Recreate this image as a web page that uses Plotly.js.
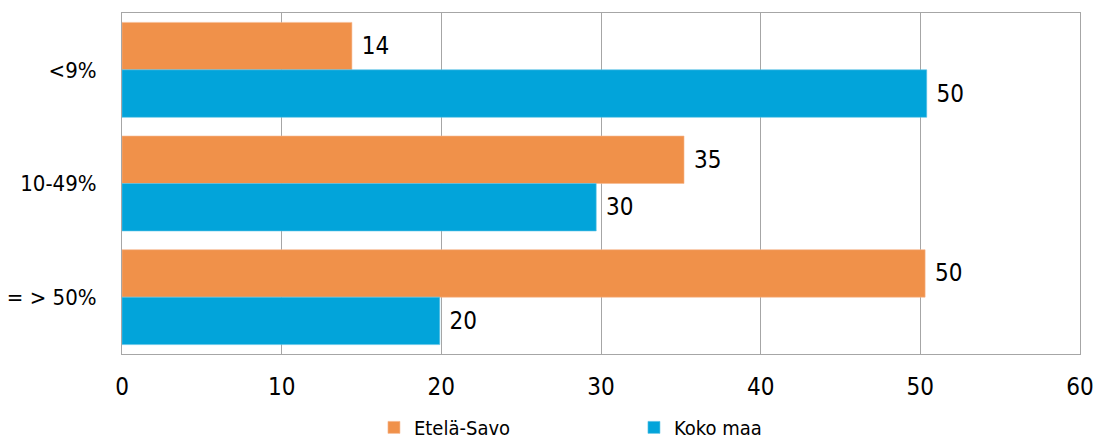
<!DOCTYPE html>
<html>
<head>
<meta charset="utf-8">
<script src="https://cdn.plot.ly/plotly-3.0.1.min.js"></script>
<style>html,body{margin:0;padding:0;background:#fff;}#chart{width:1109px;height:441px;}</style>
</head>
<body>
<div id="chart"></div>
<script>
var categories = ['<9%', '10-49%', '= > 50%'];
var seriesNames = ['Etelä-Savo', 'Koko maa'];
var etelaSavo = [14.4, 35.2, 50.3];
var kokoMaa = [50.4, 29.7, 19.9];
var xTicks = [0, 10, 20, 30, 40, 50, 60];

var FONT = 'DejaVu Sans Condensed, DejaVu Sans, sans-serif';
var traces = [
  {type: 'bar', orientation: 'h', name: seriesNames[0], y: categories, x: etelaSavo,
   marker: {color: '#F0914A', line: {color: '#F6B890', width: 0.6}},
   texttemplate: ' %{x:.0f}', textposition: 'outside', cliponaxis: false,
   textfont: {family: FONT, size: 24, color: '#000'}},
  {type: 'bar', orientation: 'h', name: seriesNames[1], y: categories, x: kokoMaa,
   marker: {color: '#02A4DA', line: {color: '#5CC3E6', width: 0.6}},
   texttemplate: ' %{x:.0f}', textposition: 'outside', cliponaxis: false,
   textfont: {family: FONT, size: 24, color: '#000'}}
];

var layout = {
  width: 1109, height: 441,
  margin: {l: 122, r: 29, t: 13, b: 87, pad: 0, autoexpand: false},
  paper_bgcolor: '#fff', plot_bgcolor: '#fff',
  font: {family: FONT, size: 22, color: '#000'},
  barmode: 'group', bargap: 0.165, bargroupgap: 0,
  showlegend: true,
  legend: {orientation: 'h', x: 0.263, xanchor: 'left', y: -0.158, yanchor: 'top',
           font: {family: FONT, size: 20, color: '#000'},
           entrywidth: 215, traceorder: 'normal', tracegroupgap: 0},
  xaxis: {range: [0, 60], tickvals: xTicks, ticktext: xTicks.map(String),
          showgrid: true, gridcolor: '#A6A6A6', gridwidth: 1, zeroline: false,
          showline: true, linecolor: '#A6A6A6', linewidth: 1, mirror: true,
          ticks: 'outside', ticklen: 11, tickcolor: 'rgba(0,0,0,0)',
          tickfont: {family: FONT, size: 24, color: '#000'}, fixedrange: true},
  yaxis: {autorange: 'reversed', type: 'category',
          showgrid: false, zeroline: false,
          showline: true, linecolor: '#A6A6A6', linewidth: 1, mirror: true,
          ticks: 'outside', ticklen: 20, tickcolor: 'rgba(0,0,0,0)',
          tickfont: {family: FONT, size: 22, color: '#000'}, fixedrange: true}
};

Plotly.newPlot('chart', traces, layout, {displayModeBar: false, staticPlot: true});
</script>
</body>
</html>
